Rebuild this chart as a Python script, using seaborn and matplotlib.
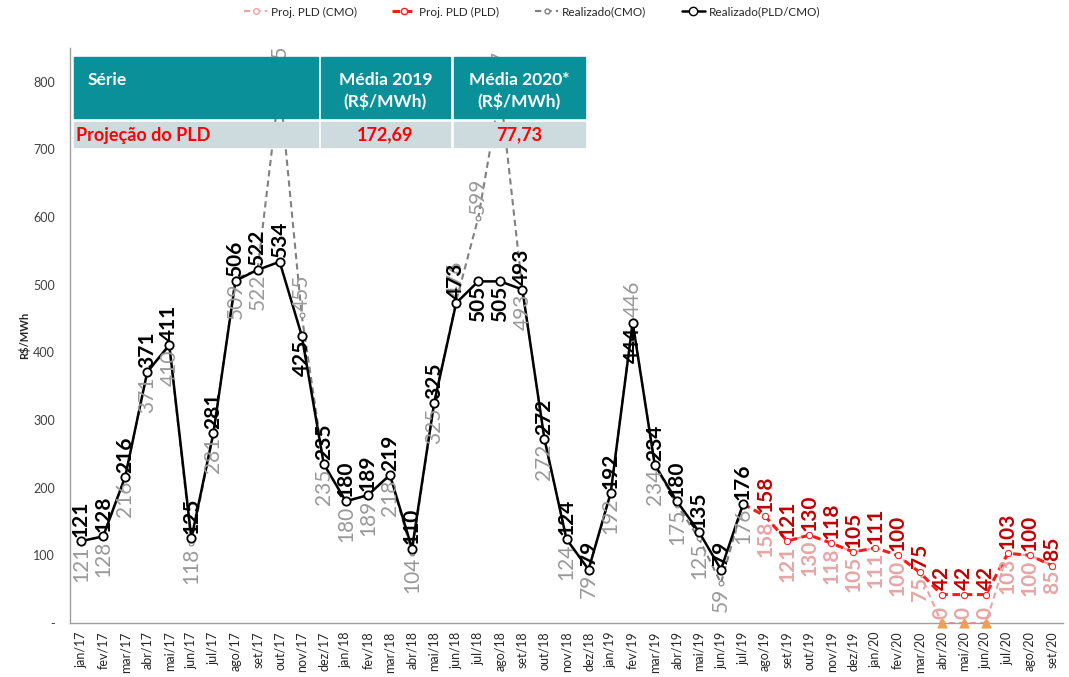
import numpy as np
import pandas as pd
import matplotlib
matplotlib.use("Agg")
import matplotlib.pyplot as plt
from matplotlib.lines import Line2D
from matplotlib.patches import Rectangle
import seaborn as sns

# ---- data ----------------------------------------------------------------
months = ['jan/17', 'fev/17', 'mar/17', 'abr/17', 'mai/17', 'jun/17', 'jul/17', 'ago/17',
          'set/17', 'out/17', 'nov/17', 'dez/17', 'jan/18', 'fev/18', 'mar/18', 'abr/18',
          'mai/18', 'jun/18', 'jul/18', 'ago/18', 'set/18', 'out/18', 'nov/18', 'dez/18',
          'jan/19', 'fev/19', 'mar/19', 'abr/19', 'mai/19', 'jun/19', 'jul/19', 'ago/19',
          'set/19', 'out/19', 'nov/19', 'dez/19', 'jan/20', 'fev/20', 'mar/20', 'abr/20',
          'mai/20', 'jun/20', 'jul/20', 'ago/20', 'set/20']

# realizado jan/17 .. jul/19
real_pld = [121, 128, 216, 371, 411, 125, 281, 506, 522, 534, 425, 235,
            180, 189, 219, 110, 325, 473, 505, 505, 493, 272, 124, 79,
            192, 444, 234, 180, 135, 79, 176]
real_cmo = [121, 128, 216, 371, 410, 118, 281, 509, 522, 795, 455, 235,
            180, 189, 218, 104, 325, 476, 599, 787, 493, 272, 124, 79,
            192, 446, 234, 175, 125, 59, 176]

# projecao jul/19 .. set/20 (PLD) and ago/19 .. set/20 (CMO)
proj_pld = [176, 158, 121, 130, 118, 105, 111, 100, 75, 42, 42, 42, 103, 100, 85]
proj_cmo = [158, 121, 130, 118, 105, 111, 100, 75, 0, 0, 0, 103, 100, 85]
piso_months = ['abr/20', 'mai/20', 'jun/20']
piso_vals = [0, 0, 0]

table_cols = ['Série', 'Média 2019\n(R$/MWh)', 'Média 2020*\n(R$/MWh)']
table_row = ['Projeção do PLD', '172,69', '77,73']

# which labels sit above the point
pld_above_idx = [i for i in range(len(real_pld)) if i not in (10, 18, 19, 25)]
cmo_above_idx = [9, 10, 17, 18, 19, 25]

# ---- styling ---------------------------------------------------------------
sns.set_style("white")
plt.rcParams['font.family'] = ['Lato', 'DejaVu Sans']

BLACK = '#000000'
GREY = '#808080'
GREY_TXT = '#999999'
RED = '#ff1a1a'
RED_TXT = '#c00000'
PINK = '#f2a0a0'
PINK_TXT = '#e6a6a6'
TEAL = '#0a9099'

W, H = 1069, 677
fig = plt.figure(figsize=(W / 100, H / 100), dpi=100)
ax = fig.add_axes([70 / W, 1 - 623 / H, (1063 - 70) / W, (623 - 48) / H])

pos = {m: i for i, m in enumerate(months)}
x_real = [pos[m] for m in months[:len(real_pld)]]
x_ppld = [pos[m] for m in months[30:30 + len(proj_pld)]]
x_pcmo = [pos[m] for m in months[31:31 + len(proj_cmo)]]

sns.lineplot(x=x_pcmo, y=proj_cmo, ax=ax, color=PINK, dashes=False, lw=1.5,
             marker='o', markersize=4, markerfacecolor='white', markeredgecolor=PINK,
             estimator=None, zorder=2).lines[-1].set_dashes((3, 2))
sns.lineplot(x=x_ppld, y=proj_pld, ax=ax, color=RED, lw=2.2,
             marker='o', markersize=4.5, markerfacecolor='white', markeredgecolor=RED,
             estimator=None, zorder=3).lines[-1].set_dashes((2.5, 1.5))
sns.lineplot(x=x_real, y=real_cmo, ax=ax, color=GREY, lw=1.5,
             marker='o', markersize=3.5, markerfacecolor='white', markeredgecolor=GREY,
             estimator=None, zorder=2).lines[-1].set_dashes((3, 2))
sns.lineplot(x=x_real, y=real_pld, ax=ax, color=BLACK, lw=1.8,
             marker='o', markersize=6, markerfacecolor='white', markeredgecolor=BLACK,
             markeredgewidth=1.3, estimator=None, zorder=4)
ax.scatter([pos[m] for m in piso_months], piso_vals, marker='^', s=40,
           color='#f0a050', zorder=5, clip_on=False)


def put_labels(xs, ys, above, color, weight, skip=()):
    for i, (x, y) in enumerate(zip(xs, ys)):
        if i in skip:
            continue
        up = i in above
        ax.annotate(str(y), (x, y), xytext=(0, 3 if up else -3),
                    textcoords='offset points', rotation=90, ha='center',
                    va='bottom' if up else 'top', fontsize=15, color=color,
                    fontweight=weight, zorder=6)


put_labels(x_real, real_cmo, cmo_above_idx, GREY_TXT, 'normal')
put_labels(x_real, real_pld, pld_above_idx, BLACK, 'bold')
put_labels(x_pcmo, proj_cmo, [8, 9, 10], PINK_TXT, 'bold')
put_labels(x_ppld, proj_pld, range(len(proj_pld)), RED_TXT, 'bold', skip=(0,))

# ---- axes ------------------------------------------------------------------
ax.set_xlim(-0.5, len(months) - 0.5)
ax.set_ylim(0, 850)
ax.set_yticks([0, 100, 200, 300, 400, 500, 600, 700, 800])
ax.set_yticklabels(['-', '100', '200', '300', '400', '500', '600', '700', '800'],
                   fontsize=9, color='#404040')
ax.set_xticks(range(len(months)))
ax.set_xticklabels(months, rotation=90, fontsize=9, color='#262626')
ax.set_xticks(np.arange(len(months) + 1) - 0.5, minor=True)
ax.tick_params(axis='x', which='major', length=0, pad=6)
ax.tick_params(axis='x', which='minor', length=5, color='#a0a0a0', direction='out')
ax.tick_params(axis='y', length=5, color='#a0a0a0', direction='out', pad=6)
ax.set_ylabel('R$/MWh', fontsize=8, fontweight='bold', color='#262626', labelpad=2)
for s in ['top', 'right']:
    ax.spines[s].set_visible(False)
for s in ['left', 'bottom']:
    ax.spines[s].set_color('#a0a0a0')
    ax.spines[s].set_linewidth(1)

# ---- table overlay -----------------------------------------------------------
def frect(x0, y0, x1, y1, color):
    fig.add_artist(Rectangle((x0 / W, 1 - y1 / H), (x1 - x0) / W, (y1 - y0) / H,
                             transform=fig.transFigure, color=color, zorder=10))


cols = [(74, 318), (321, 450), (454, 585)]
for (a, b) in cols:
    frect(a, 57, b, 118, TEAL)
    frect(a, 122, b, 147, '#cddbde')

fig.text(88 / W, 1 - 80 / H, table_cols[0], color='white', fontsize=12.5,
         fontweight='bold', va='center', ha='left', zorder=11)
for (a, b), t in zip(cols[1:], table_cols[1:]):
    fig.text((a + b) / 2 / W, 1 - 91 / H, t, color='white', fontsize=12.5,
             fontweight='bold', va='center', ha='center', zorder=11, linespacing=1.3)
fig.text(76 / W, 1 - 135 / H, table_row[0], color='#ff0000', fontsize=13,
         fontweight='bold', va='center', ha='left', zorder=11)
for (a, b), t in zip(cols[1:], table_row[1:]):
    fig.text((a + b) / 2 / W, 1 - 135 / H, t, color='#ff0000', fontsize=13,
             fontweight='bold', va='center', ha='center', zorder=11)

# ---- legend ----------------------------------------------------------------
handles = [
    Line2D([], [], color=PINK, ls=(0, (3, 2)), lw=1.5, marker='o', ms=4, mfc='white', mec=PINK),
    Line2D([], [], color=RED, ls=(0, (2.5, 1.5)), lw=2.2, marker='o', ms=4.5, mfc='white', mec=RED),
    Line2D([], [], color=GREY, ls=(0, (3, 2)), lw=1.5, marker='o', ms=3.5, mfc='white', mec=GREY),
    Line2D([], [], color=BLACK, lw=1.8, marker='o', ms=6, mfc='white', mec=BLACK),
]
names = ['Proj. PLD (CMO)', 'Proj. PLD (PLD)', 'Realizado(CMO)', 'Realizado(PLD/CMO)']
fig.legend(handles, names, loc='center', bbox_to_anchor=(532 / W, 1 - 12 / H), ncol=4,
           frameon=False, fontsize=8.5, handlelength=2.0, handletextpad=0.3,
           columnspacing=3.0, labelcolor='#262626')

fig.savefig('out.png', dpi=100)
